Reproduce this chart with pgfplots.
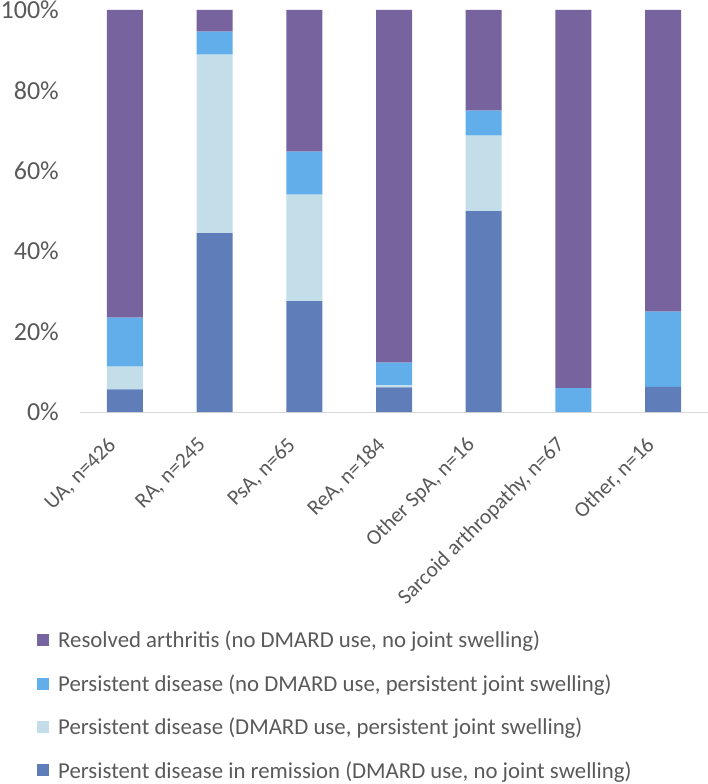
\documentclass[border=0pt]{standalone}
\usepackage{pgfplots}
\pgfplotsset{compat=1.18}
\usepackage{fontspec}
\setmainfont{Carlito}
\definecolor{cpurple}{RGB}{119,99,158}
\definecolor{csky}{RGB}{98,174,234}
\definecolor{clight}{RGB}{195,221,233}
\definecolor{cdark}{RGB}{95,126,185}
\definecolor{ctick}{RGB}{89,89,89}
\definecolor{ctext}{RGB}{89,89,89}
\begin{document}
\begin{tikzpicture}
\useasboundingbox (-80pt,-372pt) rectangle (628pt,412pt);
\begin{axis}[
  at={(0,0)}, anchor=south west,
  scale only axis, width=628pt, height=402pt,
  ybar stacked, bar width=36pt,
  xmin=-0.5, xmax=6.5, ymin=0, ymax=100,
  xtick={0,1,2,3,4,5,6},
  xticklabels={{UA, n=426},{RA, n=245},{PsA, n=65},{ReA, n=184},{Other SpA, n=16},{Sarcoid arthropathy, n=67},{Other, n=16}},
  ytick={0,20,40,60,80,100},
  yticklabel={\pgfmathprintnumber{\tick}\%},
  /pgf/number format/assume math mode=true,
  yticklabel style={font=\fontsize{26}{30}\selectfont, text=ctick, anchor=east, inner sep=0pt},
  yticklabel shift=21pt,
  xticklabel style={font=\fontsize{21.5}{25}\selectfont, text=ctick, xshift=-12pt, yshift=4pt, rotate=45, anchor=east, inner sep=0pt},
  xticklabel shift=34pt,
  major tick length=0pt,
  axis x line*=bottom,
  axis y line*=left,
  x axis line style={draw=black!15, line width=1pt, -},
  y axis line style={draw=none, -},
  legend style={at={(0,0)}, anchor=north west, xshift=-46pt, yshift=-215pt, draw=none, fill=none,
    font=\fontsize{22.8}{26}\selectfont, text=ctext, row sep=21.2pt, cells={anchor=west},
    /tikz/every odd column/.append style={column sep=7pt}},
  legend image code/.code={\fill[#1] (0pt,-6pt) rectangle (12pt,6pt);},
  reverse legend,
  clip=false,
]
\addplot[fill=cdark, draw=none] coordinates {(0,5.6) (1,44.5) (2,27.6) (3,6.1) (4,50) (5,0) (6,6.25)};
\addlegendentry{Persistent disease in remission (DMARD use, no joint swelling)}
\addplot[fill=clight, draw=none] coordinates {(0,5.7) (1,44.4) (2,26.5) (3,0.5) (4,18.75) (5,0) (6,0)};
\addlegendentry{Persistent disease (DMARD use, persistent joint swelling)}
\addplot[fill=csky, draw=none] coordinates {(0,12.2) (1,5.7) (2,10.7) (3,5.7) (4,6.25) (5,5.97) (6,18.75)};
\addlegendentry{Persistent disease (no DMARD use, persistent joint swelling)}
\addplot[fill=cpurple, draw=none] coordinates {(0,76.5) (1,5.4) (2,35.2) (3,87.7) (4,25) (5,94.03) (6,75)};
\addlegendentry{Resolved arthritis (no DMARD use, no joint swelling)}
\end{axis}
\end{tikzpicture}
\end{document}
